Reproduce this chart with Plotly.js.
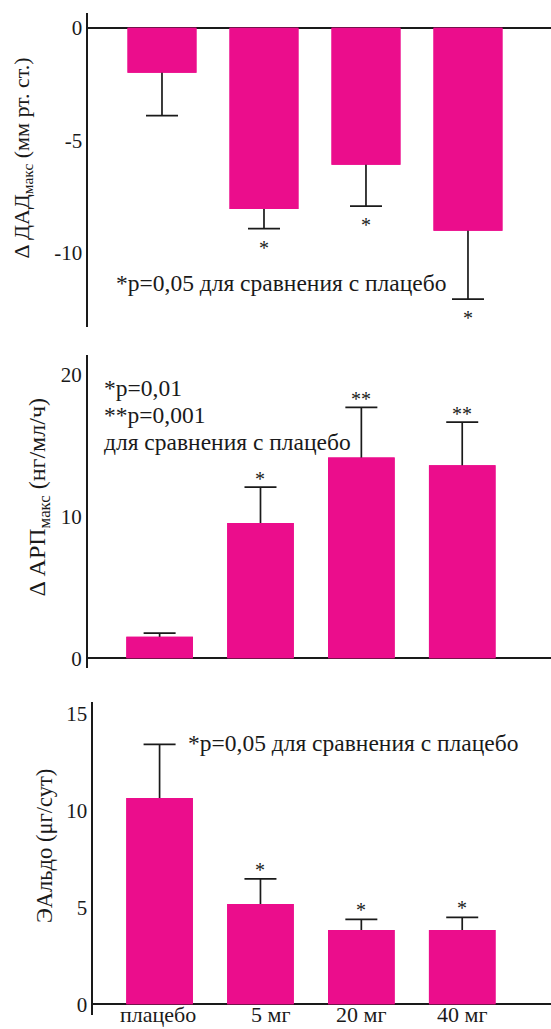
<!DOCTYPE html>
<html>
<head>
<meta charset="utf-8">
<script src="https://cdn.plot.ly/plotly-3.0.1.min.js"></script>
</head>
<body style="margin:0;background:#fff">
<div id="chart" style="width:551px;height:1029px"></div>
<script>
// ---- data ----
var categories = ['плацебо', '5 мг', '20 мг', '40 мг'];

var dadMean = [-2.0, -8.06, -6.09, -9.02];
var dadErr  = [1.91, 0.87, 1.84, 3.04];
var dadStars = ['', '*', '*', '*'];

var arpMean = [1.52, 9.53, 14.15, 13.59];
var arpErr  = [0.26, 2.53, 3.52, 3.05];
var arpStars = ['', '*', '**', '**'];

var aldoMean = [10.63, 5.17, 3.83, 3.83];
var aldoErr  = [2.77, 1.30, 0.55, 0.65];
var aldoStars = ['', '*', '*', '*'];

var dadTickVals = [0, -5, -10];
var dadTickText = ['0', '-5', '-10'];
var arpTickVals = [0, 10, 20];
var arpTickText = ['0', '10', '20'];
var aldoTickVals = [0, 5, 10, 15];
var aldoTickText = ['0', '5', '10', '15'];

var dadTitle = 'Δ ДАД<sub>макс</sub> (мм рт. ст.)';
var arpTitle = 'Δ АРП<sub>макс</sub> (нг/мл/ч)';
var aldoTitle = 'ЭАльдо (μг/сут)';

var note1 = '*p=0,05 для сравнения с плацебо';
var note2Lines = ['*p=0,01', '**p=0,001', 'для сравнения с плацебо'];
var note3 = '*p=0,05 для сравнения с плацебо';

// ---- style ----
var BAR = '#EB0D8C';
var INK = '#1a1a1a';
var SERIF = 'Times New Roman';
var W = 551, H = 1029;
var labelShiftX = [-2, 10, 0, 0];

function px2x(p){ return p / W; }
function px2y(p){ return 1 - p / H; }
function f(size){ return {family: SERIF, size: size, color: INK}; }

function panel(xa, ya, means, errs, width){
  var under = {
    type: 'bar', x: categories, y: means, xaxis: xa, yaxis: ya,
    width: width, marker: {color: BAR},
    hoverinfo: 'skip', showlegend: false,
    error_y: {type: 'data', array: errs, symmetric: true, visible: true,
              color: INK, thickness: 1.7, width: 16}
  };
  var over = {
    type: 'bar', x: categories, y: means, xaxis: xa, yaxis: ya,
    width: width, marker: {color: BAR},
    hoverinfo: 'skip', showlegend: false
  };
  return [under, over];
}

var data = []
  .concat(panel('x', 'y', dadMean, dadErr, 0.676))
  .concat(panel('x2', 'y2', arpMean, arpErr, 0.66))
  .concat(panel('x3', 'y3', aldoMean, aldoErr, 0.66));

function yax(domain, range, vals, text, anchor){
  return {
    domain: domain, range: range, anchor: anchor, fixedrange: true,
    showgrid: false, zeroline: true, zerolinecolor: INK, zerolinewidth: 1.7,
    showline: true, linecolor: INK, linewidth: 1.7,
    ticks: '', tickvals: vals, ticktext: text,
    tickfont: f(21)
  };
}
function xax(domain, range, anchor){
  return {
    domain: domain, range: range, anchor: anchor, type: 'category',
    showgrid: false, zeroline: false, showline: false,
    showticklabels: false, ticks: '', fixedrange: true
  };
}

var annotations = [];
function stars(xref, yref, means, errs, labels, shift){
  for (var i = 0; i < categories.length; i++){
    if (!labels[i]) continue;
    var tip = means[i] + (means[i] < 0 ? -errs[i] : errs[i]);
    annotations.push({
      xref: xref, yref: yref, x: categories[i], y: tip,
      text: labels[i], showarrow: false, xanchor: 'center', yanchor: 'middle',
      yshift: shift, font: f(20)
    });
  }
}
stars('x', 'y', dadMean, dadErr, dadStars, -19);
stars('x2', 'y2', arpMean, arpErr, arpStars, 8);
stars('x3', 'y3', aldoMean, aldoErr, aldoStars, 9);

annotations.push({xref: 'paper', yref: 'paper', x: px2x(114), y: px2y(283),
  xanchor: 'left', yanchor: 'middle', text: note1, showarrow: false, font: f(23.5)});
var note2Y = [388, 415, 442];
for (var j = 0; j < note2Lines.length; j++){
  annotations.push({xref: 'paper', yref: 'paper', x: px2x(102), y: px2y(note2Y[j]),
    xanchor: 'left', yanchor: 'middle', align: 'left', text: note2Lines[j],
    showarrow: false, font: f(23.5)});
}
annotations.push({xref: 'paper', yref: 'paper', x: px2x(186), y: px2y(743),
  xanchor: 'left', yanchor: 'middle', text: note3, showarrow: false, font: f(23.5)});

annotations.push({xref: 'paper', yref: 'paper', x: px2x(22.5), y: px2y(158), textangle: -90,
  xanchor: 'center', yanchor: 'middle', text: dadTitle, showarrow: false, font: f(22)});
annotations.push({xref: 'paper', yref: 'paper', x: px2x(38), y: px2y(497.5), textangle: -90,
  xanchor: 'center', yanchor: 'middle', text: arpTitle, showarrow: false, font: f(24)});
annotations.push({xref: 'paper', yref: 'paper', x: px2x(44), y: px2y(846), textangle: -90,
  xanchor: 'center', yanchor: 'middle', text: aldoTitle, showarrow: false, font: f(22.5)});

for (var k = 0; k < categories.length; k++){
  annotations.push({xref: 'x3', yref: 'paper', x: categories[k], y: px2y(1028),
    xanchor: 'center', yanchor: 'bottom', text: categories[k], showarrow: false,
    borderpad: 0, xshift: labelShiftX[k], font: f(22)});
}

var layout = {
  width: W, height: H,
  margin: {l: 0, r: 0, t: 0, b: 0, pad: 0},
  paper_bgcolor: '#fff', plot_bgcolor: '#fff',
  barmode: 'overlay', showlegend: false,
  font: {family: SERIF, color: INK, size: 20},
  xaxis:  xax([px2x(88.3), 1], [-0.7225, 3.814], 'y'),
  xaxis2: xax([px2x(87.7), 1], [-0.713, 3.88], 'y2'),
  xaxis3: xax([px2x(93.3), 1], [-0.657, 3.88], 'y3'),
  yaxis:  yax([px2y(326.7), px2y(13.3)], [-13.29, 0.64], dadTickVals, dadTickText, 'x'),
  yaxis2: yax([px2y(668.3), px2y(355)], [-0.70, 21.36], arpTickVals, arpTickText, 'x2'),
  yaxis3: yax([px2y(1015), px2y(701.7)], [-0.55, 15.6], aldoTickVals, aldoTickText, 'x3'),
  annotations: annotations
};

Plotly.newPlot('chart', data, layout, {displayModeBar: false});
</script>
</body>
</html>
